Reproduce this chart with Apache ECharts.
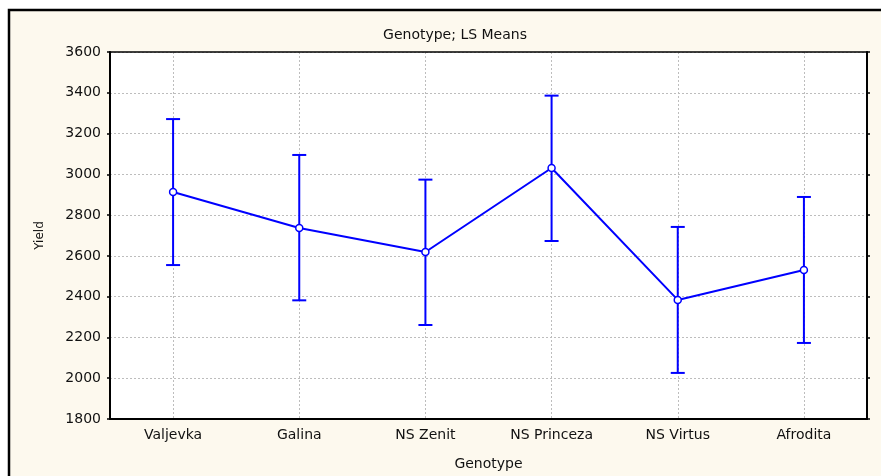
<!DOCTYPE html>
<html>
<head>
<meta charset="utf-8">
<script src="https://cdn.jsdelivr.net/npm/echarts@6/dist/echarts.min.js"></script>
<style>
  html, body { margin: 0; padding: 0; background: #fff; }
  #chart { width: 881px; height: 476px; }
</style>
</head>
<body>
<div id="chart"></div>
<script>
// LS means with confidence interval, per genotype
const genotypes = ['Valjevka', 'Galina', 'NS Zenit', 'NS Princeza', 'NS Virtus', 'Afrodita']
const means = [2913, 2737, 2619, 3031, 2384, 2531]
const upper = [3271, 3095, 2974, 3386, 2742, 2889]
const lower = [2555, 2382, 2261, 2673, 2026, 2173]

const fontFamily = 'DejaVu Sans, Verdana, sans-serif'
const blue = '#0000ff'

const chart = echarts.init(document.getElementById('chart'))

const errData = genotypes.map((g, i) => [i, lower[i], upper[i]])

chart.setOption({
  animation: false,
  textStyle: { fontFamily: fontFamily },
  graphic: [
    {
      type: 'rect',
      z: -10,
      shape: { x: 9, y: 10, width: 900, height: 500 },
      style: { fill: '#fdf9ee', stroke: '#000', lineWidth: 2.5 }
    }
  ],
  title: {
    text: 'Genotype; LS Means',
    left: 450,
    top: 23,
    textAlign: 'center',
    textStyle: { fontSize: 14, fontWeight: 'normal', color: '#111', fontFamily: fontFamily }
  },
  grid: {
    left: 110,
    right: 14,
    top: 52,
    bottom: 57,
    show: true,
    backgroundColor: '#fff',
    borderWidth: 0
  },
  xAxis: [
    {
      type: 'category',
      data: genotypes,
      name: 'Genotype',
      nameLocation: 'middle',
      nameGap: 38,
      nameTextStyle: { fontSize: 14, color: '#111' },
      axisLine: { lineStyle: { color: '#000', width: 2 } },
      axisTick: { inside: true, length: 4, alignWithLabel: true, lineStyle: { color: '#000', width: 1.5 } },
      axisLabel: { fontSize: 14, color: '#111', margin: 9 },
      splitLine: { show: true, alignWithLabel: true, lineStyle: { color: '#bdbdbd', type: [2, 2], width: 1 } }
    },
    {
      type: 'category',
      data: genotypes,
      position: 'top',
      axisLine: { lineStyle: { color: '#000', width: 1.5 } },
      axisTick: { inside: true, length: 3, alignWithLabel: true, lineStyle: { color: '#000' } },
      axisLabel: { show: false },
      splitLine: { show: false }
    }
  ],
  yAxis: [
    {
      type: 'value',
      min: 1800,
      max: 3600,
      interval: 200,
      name: 'Yield',
      nameLocation: 'middle',
      nameGap: 64,
      nameRotate: 90,
      nameTextStyle: { fontSize: 12, color: '#111' },
      axisLine: { show: true, lineStyle: { color: '#000', width: 2 } },
      axisTick: { show: true, length: 3, lineStyle: { color: '#000', width: 1.5 } },
      axisLabel: { fontSize: 14, color: '#111', margin: 9, formatter: v => String(v) },
      splitLine: { show: true, lineStyle: { color: '#bdbdbd', type: [2, 2], width: 1 } }
    },
    {
      type: 'value',
      min: 1800,
      max: 3600,
      interval: 200,
      position: 'right',
      axisLine: { show: true, lineStyle: { color: '#000', width: 2 } },
      axisTick: { show: true, length: 3, lineStyle: { color: '#000', width: 1.5 } },
      axisLabel: { show: false },
      splitLine: { show: false }
    }
  ],
  series: [
    {
      type: 'custom',
      name: 'CI',
      data: errData,
      z: 2,
      renderItem: function (params, api) {
        const x = api.value(0)
        const lo = api.coord([x, api.value(1)])
        const hi = api.coord([x, api.value(2)])
        const hw = 7
        const st = { stroke: blue, lineWidth: 2 }
        return {
          type: 'group',
          children: [
            { type: 'line', shape: { x1: lo[0], y1: lo[1], x2: hi[0], y2: hi[1] }, style: st },
            { type: 'line', shape: { x1: hi[0] - hw, y1: hi[1], x2: hi[0] + hw, y2: hi[1] }, style: st },
            { type: 'line', shape: { x1: lo[0] - hw, y1: lo[1], x2: lo[0] + hw, y2: lo[1] }, style: st }
          ]
        }
      }
    },
    {
      type: 'line',
      name: 'Yield',
      data: means,
      z: 3,
      symbol: 'circle',
      symbolSize: 7,
      lineStyle: { color: blue, width: 2 },
      itemStyle: { color: '#fff', borderColor: blue, borderWidth: 1.5 }
    }
  ]
})
</script>
</body>
</html>
